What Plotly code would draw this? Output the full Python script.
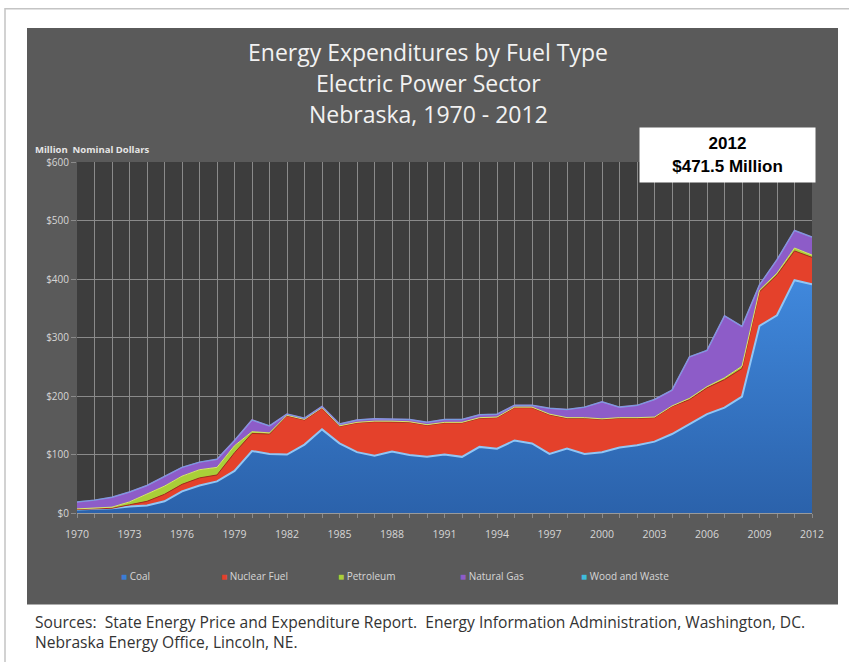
import plotly.graph_objects as go

# Nebraska electric power sector energy expenditures, million nominal dollars
years = list(range(1970, 2013))

coal = [6, 7, 8, 11, 13, 20, 37, 47, 54, 72,
        106, 101, 100, 117, 143, 119, 104, 98, 105, 99,
        96, 100, 96, 113, 110, 124, 119, 101, 110, 101,
        104, 112, 116, 122, 135, 152, 169, 180, 199, 320,
        338, 398, 391]
nuclear = [0, 0, 0, 3, 7, 12, 12, 13, 11, 31,
           30, 34, 66, 42, 36, 29, 50, 58, 51, 56,
           54, 54, 58, 49, 53, 56, 61, 67, 52, 61,
           56, 50, 46, 41, 47, 42, 45, 48, 48, 58,
           69, 50, 46]
petroleum = [1, 1, 2, 5, 13, 14, 14, 14, 13, 12,
             3, 2, 1, 1, 1, 1, 1, 1, 1, 1,
             1, 1, 1, 1, 1, 1, 1, 1, 1, 1,
             1, 1, 1, 1, 1, 2, 2, 3, 4, 3,
             3, 5, 4]
natural_gas = [12, 14, 17, 17, 14, 16, 15, 13, 14, 9,
               20, 12, 2, 2, 2, 3, 4, 4, 4, 4,
               4, 5, 5, 5, 5, 3, 3, 10, 14, 18,
               29, 18, 21, 30, 27, 71, 62, 106, 68, 9,
               23, 30, 30.5]
wood_waste = [0, 0, 0, 0, 0, 0, 0, 0, 0, 0,
              0, 0, 0, 0, 0, 0, 0, 0, 0, 0,
              0, 0, 0, 0, 0, 0, 0, 0, 0, 0,
              0, 0, 0, 0, 0, 0, 0, 0, 0, 0,
              0, 0, 0]

x_tick_labels = ["1970", "1973", "1976", "1979", "1982", "1985", "1988",
                 "1991", "1994", "1997", "2000", "2003", "2006", "2009", "2012"]
y_tick_values = [0, 100, 200, 300, 400, 500, 600]
y_tick_labels = ["$0", "$100", "$200", "$300", "$400", "$500", "$600"]

title_lines = ["Energy Expenditures by Fuel Type",
               "Electric Power Sector",
               "Nebraska, 1970 - 2012"]
source_lines = ["Sources:  State Energy Price and Expenditure Report.  Energy Information Administration, Washington, DC.",
                "Nebraska Energy Office, Lincoln, NE."]

# ---- page geometry (pixels) ----
W, H = 849, 662
PL, PR, PT, PB = 77, 812, 162, 512.7
SANS = "Open Sans, Lato, sans-serif"


def px_x(px):
    return (px - PL) / (PR - PL)


def px_y(py):
    return (PB - py) / (PB - PT)


series = [
    ("Coal", coal, "#3b7dd6", "#8fc6f6", 2.0),
    ("Nuclear Fuel", nuclear, "#e4412b", "#a52a1c", 1.0),
    ("Petroleum", petroleum, "#a9cf38", "#d8e86a", 1.0),
    ("Natural Gas", natural_gas, "#8d5cc8", "#a883e0", 1.5),
    ("Wood and Waste", wood_waste, "#3fbcdc", "#3fbcdc", 0.5),
]
legend_marker_px = [119, 219, 336, 458, 579]

fig = go.Figure()
for name, vals, fill, edge, lw in series:
    kw = {}
    if name == "Coal":
        kw["fillgradient"] = dict(type="vertical",
                                  colorscale=[[0, "#2b62ab"], [1, "#4088dc"]])
    else:
        kw["fillcolor"] = fill
    fig.add_trace(go.Scatter(
        x=years, y=vals, name=name, mode="lines", stackgroup="fuel",
        line=dict(color=edge, width=lw), showlegend=False, **kw,
    ))

tick_text = [str(y) if str(y) in x_tick_labels else "" for y in years]

fig.update_layout(
    width=W, height=H,
    margin=dict(l=PL, r=W - PR, t=PT, b=H - PB, pad=0),
    paper_bgcolor="white",
    plot_bgcolor="rgba(0,0,0,0)",
    font=dict(family=SANS, color="#d9d9d9"),
    xaxis=dict(range=[1970, 2012], tickmode="array", tickvals=years,
               ticktext=tick_text, showgrid=True, gridcolor="#8a8a8a",
               gridwidth=1, ticks="outside", ticklen=4, tickcolor="#8a8a8a",
               showline=True, linecolor="#9a9a9a", linewidth=1,
               tickfont=dict(family=SANS, size=10.5, color="#d6d6d6"),
               zeroline=False, ticklabelstandoff=7),
    yaxis=dict(range=[0, 600], tickmode="array", tickvals=y_tick_values,
               ticktext=y_tick_labels, showgrid=True, gridcolor="#8a8a8a",
               gridwidth=1, ticks="outside", ticklen=5, tickcolor="#8a8a8a",
               tickfont=dict(family=SANS, size=10, color="#d6d6d6"),
               zeroline=False),
    shapes=[
        # outer frame
        dict(type="rect", xref="paper", yref="paper", layer="below",
             x0=px_x(5), x1=px_x(855), y0=px_y(670), y1=px_y(9),
             line=dict(color="#c4c4c4", width=1.5), fillcolor="white"),
        # dark chart panel
        dict(type="rect", xref="paper", yref="paper", layer="below",
             x0=px_x(27), x1=px_x(838), y0=px_y(604), y1=px_y(28),
             line=dict(width=0), fillcolor="#5a5a5a"),
        # plot area
        dict(type="rect", xref="paper", yref="paper", layer="below",
             x0=0, x1=1, y0=0, y1=1,
             line=dict(width=0), fillcolor="#3d3d3d"),
    ],
)

annotations = []
for i, line in enumerate(title_lines):
    annotations.append(dict(
        text=line, xref="paper", yref="paper", x=px_x(428), y=px_y(52 + 31 * i),
        xanchor="center", yanchor="middle", showarrow=False,
        font=dict(family=SANS, size=23, color="#f2f2f2")))

annotations.append(dict(
    text="<b>Million  Nominal Dollars</b>", xref="paper", yref="paper",
    x=px_x(33), y=px_y(150), xanchor="left", yanchor="middle", showarrow=False,
    font=dict(family=SANS, size=9.5, color="#e6e6e6")))

# legend row: coloured square + series name
for (name, _, fill, _, _), mx in zip(series, legend_marker_px):
    annotations.append(dict(
        text=f"<span style='color:{fill}'>■</span> {name}",
        xref="paper", yref="paper", x=px_x(mx), y=px_y(576),
        xanchor="left", yanchor="middle", showarrow=False,
        font=dict(family=SANS, size=10, color="#d6d6d6")))

total_2012 = coal[-1] + nuclear[-1] + petroleum[-1] + natural_gas[-1] + wood_waste[-1]
annotations.append(dict(
    text=f"<b>{years[-1]}</b><br><b>${total_2012:.1f} Million</b>",
    xref="paper", yref="paper", x=px_x(727.5), y=px_y(155),
    xanchor="center", yanchor="middle", showarrow=False,
    width=175, height=54, borderpad=0, bgcolor="white",
    font=dict(family="Arial, Liberation Sans, sans-serif", size=17, color="black")))

annotations.append(dict(
    text="<br>".join(source_lines), xref="paper", yref="paper",
    x=px_x(33), y=px_y(632), xanchor="left", yanchor="middle", align="left",
    showarrow=False,
    font=dict(family=SANS, size=15.6, color="#333333")))

fig.update_layout(annotations=annotations)

fig.write_html("out.html")
